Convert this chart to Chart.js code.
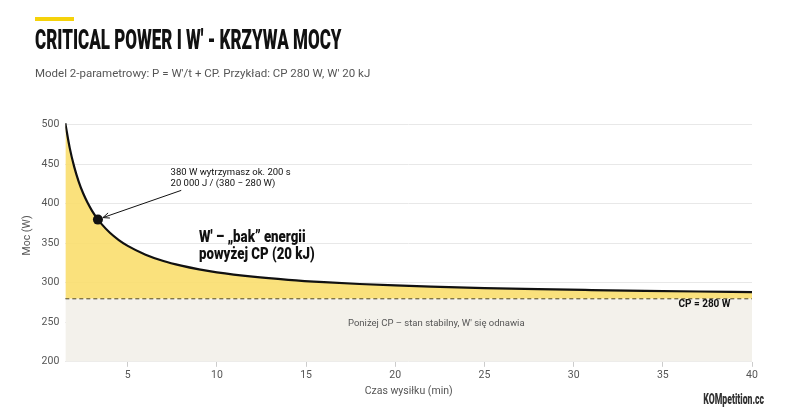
<!DOCTYPE html>
<html><head><meta charset="utf-8">
<script src="https://cdn.jsdelivr.net/npm/chart.js@4/dist/chart.umd.min.js"></script>
<style>
body{margin:0;background:#fff;font-family:Roboto,sans-serif}
#wrap{position:relative;width:800px;height:420px}
canvas{position:absolute;left:0;top:0}
.bar{position:absolute;left:35px;top:17px;width:39px;height:4px;background:#f5d20a}
h1{position:absolute;left:35px;top:24px;margin:0;font:900 27px Roboto,sans-serif;color:#111;transform:scaleX(0.63);transform-origin:left top;white-space:nowrap}
.sub{position:absolute;left:35px;top:66px;font-size:11.5px;color:#555}
.wm{position:absolute;right:36px;top:391px;font:900 14px Roboto,sans-serif;color:#333;transform:scaleX(0.62);transform-origin:right top}
</style></head>
<body><div id="wrap">
<canvas id="c" width="800" height="420"></canvas>
<div class="bar"></div>
<h1>CRITICAL POWER I W' - KRZYWA MOCY</h1>
<div class="sub">Model 2-parametrowy: P = W'/t + CP. Przykład: CP 280 W, W' 20 kJ</div>
<div class="wm">KOMpetition.cc</div>
</div>
<script>
// czas (min) i moc (W)
const czas = [1.5,1.75,2,2.25,2.5,2.75,3,3.33,3.5,4,4.5,5,6,7,8,9,10,12,14,16,18,20,22,25,28,31,34,37,40];
const moc  = [502,470.5,446.7,428.1,413.3,401.2,391.1,380,375.2,363.3,354.1,346.7,335.6,327.6,321.7,317,313.3,307.8,303.8,300.8,298.5,296.7,295.2,293.3,291.9,290.8,289.8,289,288.3];
const CP = 280;
const punkt = { x: 3.33, y: 380 };
const yTicks = [200,250,300,350,400,450,500];
const xTicks = [5,10,15,20,25,30,35,40];

const notes = {
  id: 'notes',
  afterDatasetsDraw(chart) {
    const c = chart.ctx, xs = chart.scales.x, ys = chart.scales.y;
    const px = v => xs.getPixelForValue(v), py = v => ys.getPixelForValue(v);
    c.save();
    // strzałka
    const x0 = px(punkt.x), y0 = py(punkt.y), x1 = px(8.0), y1 = py(417);
    c.strokeStyle = '#111'; c.lineWidth = 1;
    c.beginPath(); c.moveTo(x1, y1); c.lineTo(x0 + 5, y0 - 2); c.stroke();
    const a = Math.atan2(y0 - y1, x0 - x1);
    c.beginPath(); c.moveTo(x0 + 5, y0 - 2);
    c.lineTo(x0 + 5 - 7*Math.cos(a-0.4), y0 - 2 - 7*Math.sin(a-0.4));
    c.moveTo(x0 + 5, y0 - 2);
    c.lineTo(x0 + 5 - 7*Math.cos(a+0.4), y0 - 2 - 7*Math.sin(a+0.4));
    c.stroke();
    c.fillStyle = '#111'; c.beginPath(); c.arc(x0, y0, 5, 0, Math.PI*2); c.fill();
    c.font = '9.5px Roboto'; c.textAlign = 'left'; c.textBaseline = 'middle';
    c.fillText('380 W wytrzymasz ok. 200 s', px(7.4), py(440));
    c.fillText('20 000 J / (380 − 280 W)', px(7.4), py(425));
    c.save();
    c.translate(px(9.0), 0); c.scale(0.78, 1);
    c.font = '900 17px Roboto';
    c.fillText('W\' – „bak” energii', 0, py(357));
    c.fillText('powyżej CP (20 kJ)', 0, py(336));
    c.restore();
    c.font = 'bold 10px Roboto'; c.textAlign = 'right';
    c.fillText('CP = 280 W', px(38.8), py(272));
    c.font = '9.5px Roboto'; c.fillStyle = '#555'; c.textAlign = 'center';
    c.fillText('Poniżej CP – stan stabilny, W\' się odnawia', px(22.3), py(248));
    c.restore();
  }
};

new Chart(document.getElementById('c'), {
  type: 'line',
  data: {
    datasets: [
      { data: czas.map((t, i) => ({ x: t, y: moc[i] })), borderColor: '#111', borderWidth: 2.2,
        pointRadius: 0, tension: 0.4, cubicInterpolationMode: 'monotone',
        fill: { value: CP }, backgroundColor: 'rgba(250,222,110,0.9)' },
      { data: [{ x: 1.5, y: CP }, { x: 40, y: CP }], borderColor: '#222', borderWidth: 1.2,
        borderDash: [4, 3], pointRadius: 0, fill: 'start', backgroundColor: '#f3f1eb' }
    ]
  },
  options: {
    animation: false, responsive: false,
    layout: { padding: { left: 19, right: 48, top: 109, bottom: 20 } },
    plugins: { legend: { display: false }, tooltip: { enabled: false } },
    scales: {
      x: { type: 'linear', min: 1.5, max: 40,
        afterBuildTicks: s => { s.ticks = xTicks.map(v => ({ value: v })); },
        grid: { drawOnChartArea: false, tickLength: 5, color: '#ccc' }, border: { display: false },
        ticks: { color: '#555', font: { size: 10.5, family: 'Roboto' }, padding: 2 },
        title: { display: true, text: 'Czas wysiłku (min)', color: '#555', font: { size: 10.5, family: 'Roboto' }, padding: 2 } },
      y: { min: 200, max: 520,
        afterBuildTicks: s => { s.ticks = yTicks.map(v => ({ value: v })); },
        grid: { color: '#e8e8e8', drawTicks: false }, border: { display: false },
        ticks: { color: '#555', font: { size: 10.5, family: 'Roboto' }, padding: 6 },
        title: { display: true, text: 'Moc (W)', color: '#555', font: { size: 10.5, family: 'Roboto' }, padding: 2 } }
    }
  },
  plugins: [notes]
});
</script>
</body></html>
